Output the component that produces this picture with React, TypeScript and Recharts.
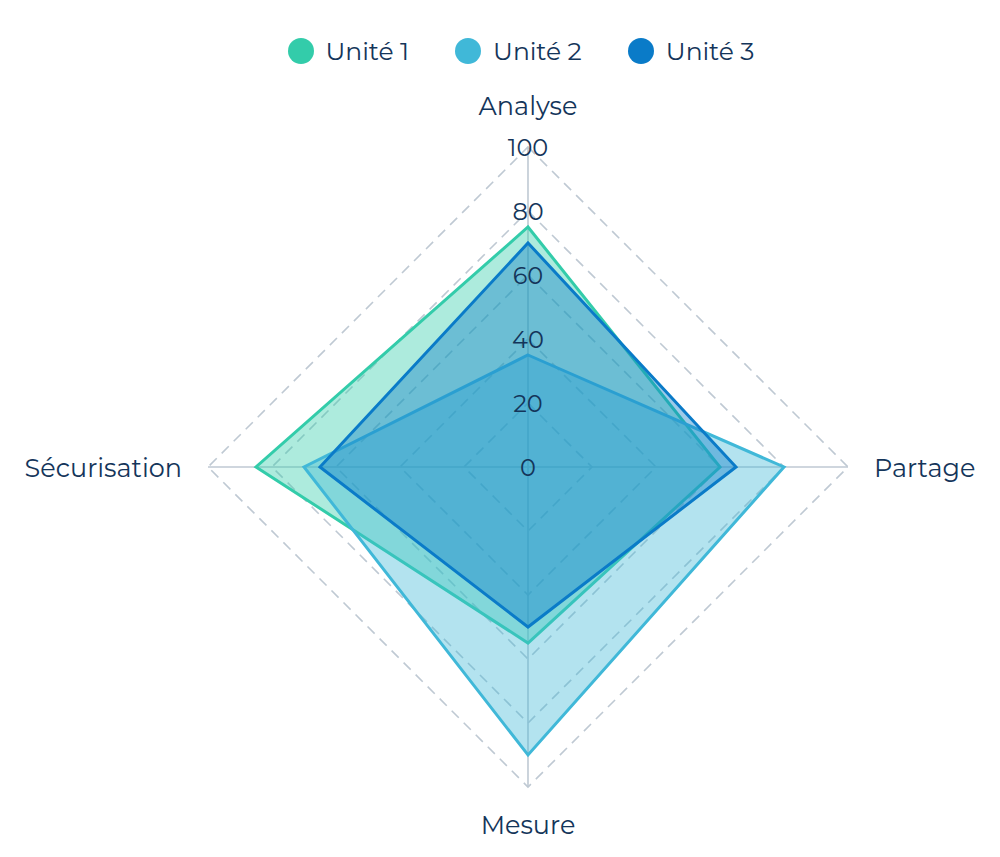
import * as React from 'react';
import {
  RadarChart,
  Radar,
  PolarGrid,
  PolarAngleAxis,
  PolarRadiusAxis,
  Legend,
} from 'recharts';

const axes = ['Analyse', 'Partage', 'Mesure', 'Sécurisation'];
const unite1 = [75, 60, 55, 85];
const unite2 = [35, 80, 90, 70];
const unite3 = [70, 65, 50, 65];
const radiusTicks = [0, 20, 40, 60, 80, 100];

const series = [
  { key: 'u1', name: 'Unité 1', color: '#33CCAA' },
  { key: 'u2', name: 'Unité 2', color: '#40B8D8' },
  { key: 'u3', name: 'Unité 3', color: '#0A7BC8' },
];

const data = axes.map((subject, i) => ({
  subject,
  u1: unite1[i],
  u2: unite2[i],
  u3: unite3[i],
}));

const FONT = 'Montserrat, Inter, "Noto Sans", sans-serif';
const TEXT = '#14355A';

function AngleTick(props: any) {
  const { x, y, cx, cy, radius, payload } = props;
  const dx = x - cx;
  const dy = y - cy;
  const len = Math.sqrt(dx * dx + dy * dy) || 1;
  const ux = dx / len;
  const uy = dy / len;
  const vertical = Math.abs(uy) > 0.5;
  // labels sit a little further out above the chart than below it
  const gap = vertical ? (uy < 0 ? 42 : 37) : 26;
  const px = cx + ux * (radius + gap);
  const py = cy + uy * (radius + gap);
  let anchor: 'middle' | 'start' | 'end' = 'middle';
  if (!vertical) anchor = ux > 0 ? 'start' : 'end';
  return (
    <text
      x={px}
      y={py}
      textAnchor={anchor}
      dominantBaseline="central"
      fill={TEXT}
      fontSize={25.5}
      fontFamily={FONT}
    >
      {payload.value}
    </text>
  );
}

function RadiusTick(props: any) {
  const { x, y, payload } = props;
  return (
    <text
      x={x}
      y={y}
      textAnchor="middle"
      dominantBaseline="central"
      fill={TEXT}
      fontSize={24}
      fontFamily={FONT}
    >
      {payload.value}
    </text>
  );
}

function LegendContent() {
  return (
    <div
      style={{
        display: 'flex',
        justifyContent: 'center',
        gap: 46,
        fontFamily: FONT,
        fontSize: 25,
        color: TEXT,
        paddingLeft: 42,
      }}
    >
      {series.map((s) => (
        <div key={s.key} style={{ display: 'flex', alignItems: 'center', gap: 12 }}>
          <span
            style={{
              width: 26,
              height: 26,
              borderRadius: '50%',
              backgroundColor: s.color,
              display: 'inline-block',
            }}
          />
          <span>{s.name}</span>
        </div>
      ))}
    </div>
  );
}

export default function App() {
  return (
    <RadarChart
      width={984}
      height={841}
      data={data}
      cx={520}
      cy={459}
      outerRadius={320}
      margin={{ top: 0, right: 0, bottom: 0, left: 0 }}
    >
      <PolarGrid
        gridType="polygon"
        radialLines={false}
        stroke="#BFC9D3"
        strokeWidth={1.6}
        strokeDasharray="10 7"
      />
      <PolarGrid
        gridType="polygon"
        polarRadius={[]}
        stroke="#BFC9D3"
        strokeWidth={1.6}
      />
      <PolarAngleAxis
        dataKey="subject"
        axisLine={false}
        tickLine={false}
        tick={<AngleTick />}
      />
      {series.map((s) => (
        <Radar
          key={s.key}
          name={s.name}
          dataKey={s.key}
          stroke={s.color}
          strokeWidth={3}
          fill={s.color}
          fillOpacity={0.4}
          isAnimationActive={false}
        />
      ))}
      <PolarRadiusAxis
        angle={90}
        domain={[0, 100]}
        ticks={radiusTicks as any}
        tickCount={6}
        orientation="middle"
        axisLine={false}
        tickLine={false}
        tick={<RadiusTick />}
      />
      <Legend
        verticalAlign="top"
        align="center"
        content={<LegendContent />}
        wrapperStyle={{ top: 28, left: 0, width: 984 }}
      />
    </RadarChart>
  );
}
